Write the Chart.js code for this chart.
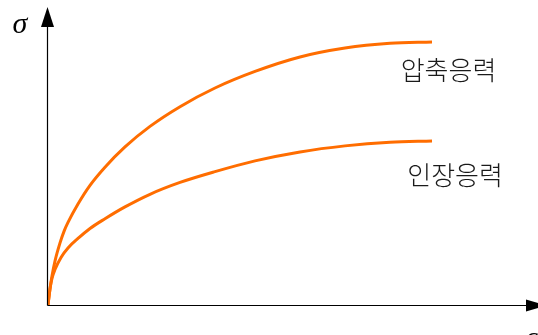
<!DOCTYPE html>
<html>
<head>
<meta charset="utf-8">
<script src="https://cdn.jsdelivr.net/npm/chart.js@4"></script>
<style>
  html, body { margin: 0; padding: 0; background: #ffffff; }
  #wrap { width: 538px; height: 335px; }
</style>
</head>
<body>
<div id="wrap"><canvas id="c" width="538" height="335"></canvas></div>
<script>
// compressive stress curve (strain, stress)
const strainUpper = [0, 0.52, 1.04, 1.82, 3.13, 4.17, 5.21, 7.81, 10.94, 14.84, 20.05, 26.56, 34.38, 43.49, 53.91, 65.63, 77.34, 89.06, 100];
const stressCompression = [0, 6.1, 11.0, 16.7, 23.6, 28.0, 31.4, 38.4, 45.5, 52.4, 60.1, 67.9, 75.4, 82.5, 88.8, 94.3, 97.7, 99.5, 100];

// tensile stress curve (strain, stress)
const strainLower = [0, 0.52, 1.04, 1.82, 3.39, 5.21, 7.81, 10.94, 14.84, 20.05, 26.56, 34.38, 43.49, 53.91, 65.63, 77.34, 89.06, 100];
const stressTension = [0, 6.1, 10.1, 13.5, 18.1, 21.7, 25.3, 29.1, 32.8, 37.3, 42.1, 46.6, 50.7, 54.8, 58.2, 60.5, 61.9, 62.4];

const curveLabels = ["압축응력", "인장응력"];
const axisLabels = { y: "σ", x: "ε" };

const toPoints = (xs, ys) => xs.map((x, i) => ({ x: x, y: ys[i] }));

const annotate = {
  id: 'annotate',
  afterDraw(chart) {
    const ctx = chart.ctx;
    const a = chart.chartArea;
    const xs = chart.scales.x, ys = chart.scales.y;
    const x0 = Math.round(xs.getPixelForValue(0)) - 0.5;
    const y0 = Math.round(ys.getPixelForValue(0)) + 0.5;
    ctx.save();
    ctx.strokeStyle = '#000';
    ctx.fillStyle = '#000';
    ctx.lineWidth = 1.2;
    // y axis
    ctx.beginPath();
    ctx.moveTo(x0, y0);
    ctx.lineTo(x0, a.top + 20);
    ctx.stroke();
    ctx.beginPath();
    ctx.moveTo(x0, a.top);
    ctx.lineTo(x0 - 6.5, a.top + 20);
    ctx.lineTo(x0 + 6.5, a.top + 20);
    ctx.closePath();
    ctx.fill();
    // x axis
    const xEnd = 526;
    ctx.beginPath();
    ctx.moveTo(x0, y0);
    ctx.lineTo(xEnd, y0);
    ctx.stroke();
    ctx.beginPath();
    ctx.moveTo(xEnd + 20, y0);
    ctx.lineTo(xEnd, y0 - 6);
    ctx.lineTo(xEnd, y0 + 6);
    ctx.closePath();
    ctx.fill();

    // axis symbols
    ctx.font = 'italic 30px "Liberation Serif", "DejaVu Serif", serif';
    ctx.textAlign = 'center';
    ctx.textBaseline = 'alphabetic';
    ctx.fillText(axisLabels.y, 20, 33);
    ctx.fillText(axisLabels.x, 532, 347);

    // curve labels
    ctx.font = '300 26px "Noto Sans CJK KR", sans-serif';
    ctx.textBaseline = 'middle';
    ctx.fillStyle = '#1a1a1a';
    ctx.fillText(curveLabels[0], xs.getPixelForValue(104.3), ys.getPixelForValue(89.2));
    ctx.fillText(curveLabels[1], xs.getPixelForValue(106.0), ys.getPixelForValue(49.4));
    ctx.restore();
  }
};

new Chart(document.getElementById('c'), {
  type: 'line',
  data: {
    datasets: [
      { label: curveLabels[0], data: toPoints(strainUpper, stressCompression) },
      { label: curveLabels[1], data: toPoints(strainLower, stressTension) }
    ].map(d => Object.assign(d, {
      borderColor: '#FF6D00',
      borderWidth: 3,
      pointRadius: 0,
      fill: false,
      cubicInterpolationMode: 'monotone'
    }))
  },
  options: {
    responsive: false,
    animation: false,
    layout: { padding: { left: 48, right: 0, top: 7, bottom: 30 } },
    plugins: { legend: { display: false }, tooltip: { enabled: false } },
    scales: {
      x: { type: 'linear', min: 0, max: 127.6, display: false },
      y: { type: 'linear', min: 0, max: 113.3, display: false }
    }
  },
  plugins: [annotate]
});
</script>
</body>
</html>
